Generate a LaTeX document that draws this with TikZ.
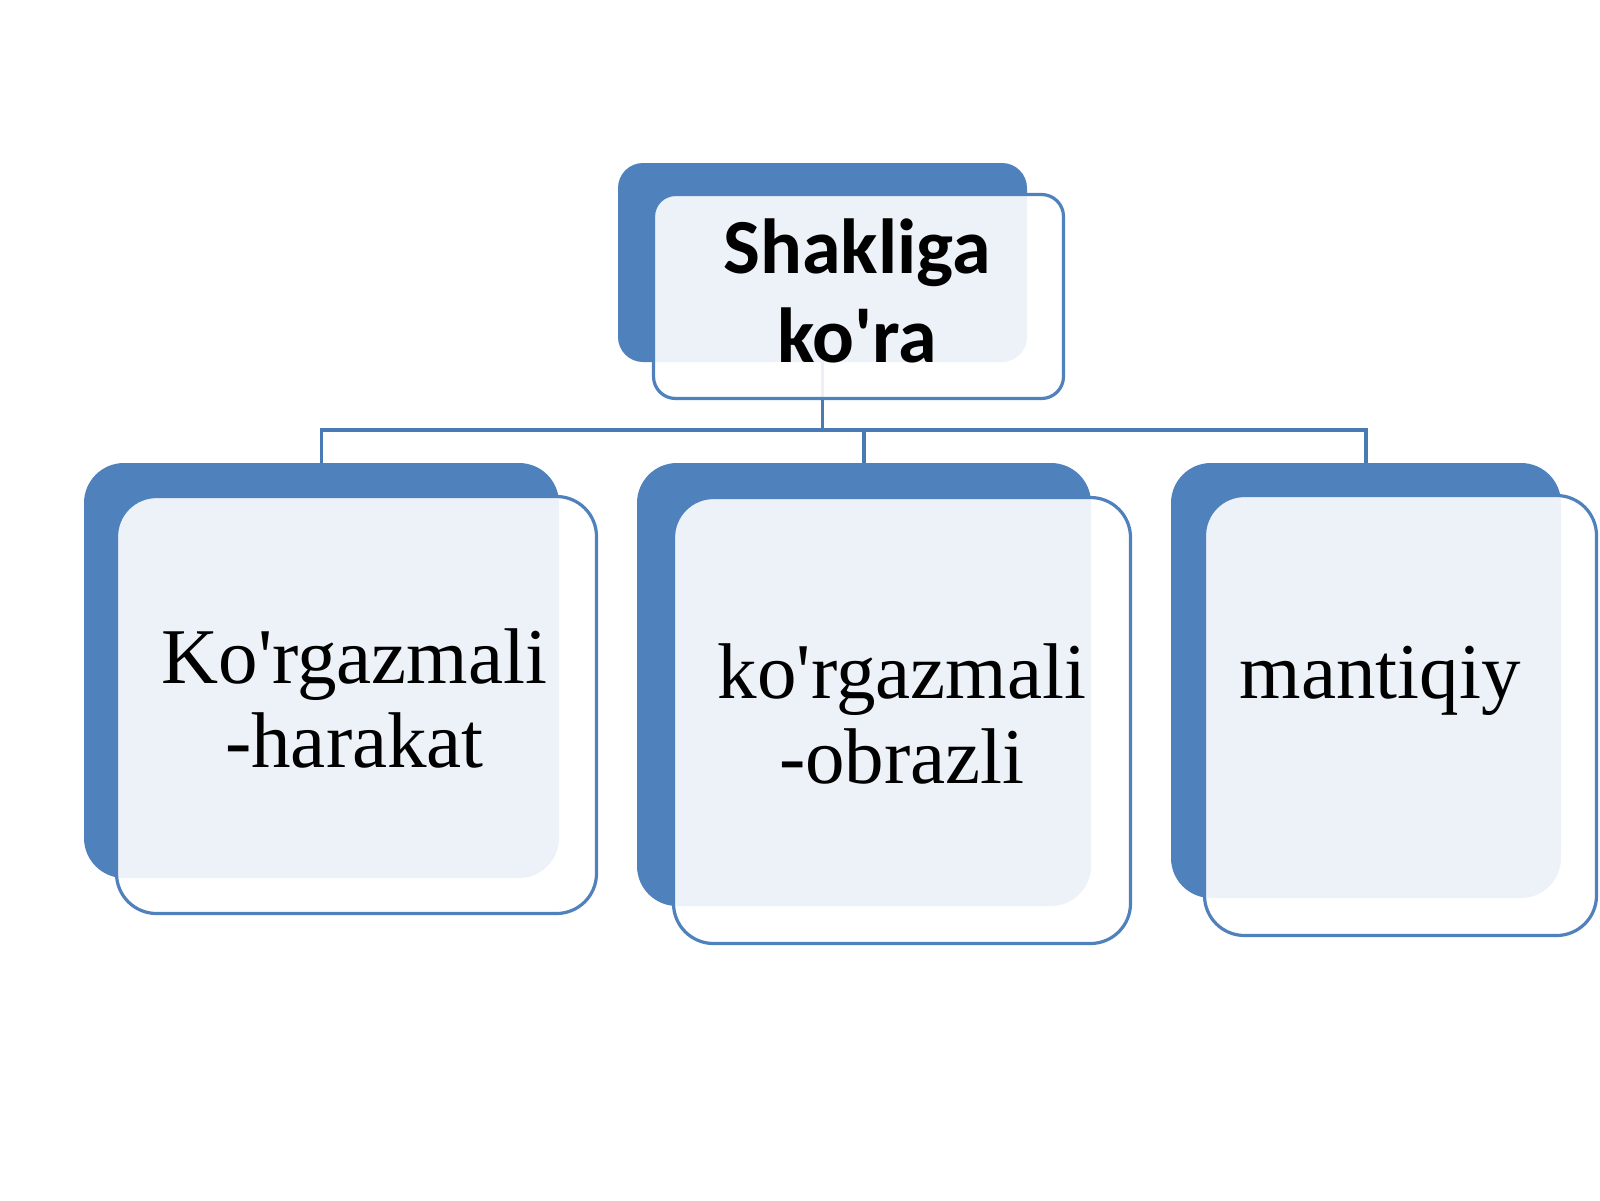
\documentclass[tikz,border=0pt]{standalone}
\usepackage{fontspec}
\setmainfont{Liberation Serif}
\newfontfamily\labelsans{Carlito}
\definecolor{accentblue}{HTML}{4F81BD}
\definecolor{linkblue}{HTML}{4A7AB4}
\begin{document}
\begin{tikzpicture}[x=1pt,y=-1pt,
  backbox/.style={rectangle, draw=none, fill=accentblue, inner sep=0pt, outer sep=0pt},
  frontbox/.style={rectangle, draw=accentblue, line width=3.2pt, fill=white, fill opacity=0.9, inner sep=0pt, outer sep=0pt},
  link/.style={draw=linkblue, line width=3.2pt},
  childtext/.style={anchor=base, inner sep=0pt, font=\fontsize{79}{84}\selectfont},
  toptext/.style={anchor=base, inner sep=0pt, font=\labelsans\bfseries\fontsize{78}{89}\selectfont}
]
\useasboundingbox[fill=white] (0,0) rectangle (1600,1200);

% back boxes
\node[backbox, rounded corners=25pt, minimum width=409pt, minimum height=199pt] (topback) at (822.5,262.5) {};
\node[backbox, rounded corners=40pt, minimum width=475pt, minimum height=415pt] (leftback) at (321.5,670.5) {};
\node[backbox, rounded corners=40pt, minimum width=454pt, minimum height=443pt] (midback) at (864,684.5) {};
\node[backbox, rounded corners=40pt, minimum width=390pt, minimum height=435pt] (rightback) at (1366,680.5) {};

% connectors
\coordinate (bus) at (822.5,430);
\draw[link] (topback.south) |- (leftback.north |- bus) -- (leftback.north);
\draw[link] (topback.south) |- (rightback.north |- bus) -- (rightback.north);
\draw[link] (midback.north |- bus) -- (midback.north);

% front boxes
\node[frontbox, rounded corners=22pt, minimum width=410pt, minimum height=204pt] (topfront) at (858.5,296.5) {};
\node[frontbox, rounded corners=40pt, minimum width=480pt, minimum height=417pt] (leftfront) at (356.5,705) {};
\node[frontbox, rounded corners=40pt, minimum width=457pt, minimum height=446pt] (midfront) at (902,720.5) {};
\node[frontbox, rounded corners=40pt, minimum width=392pt, minimum height=440pt] (rightfront) at (1400.5,715.5) {};

% texts
\node[toptext] (toplabel) at (857,273) {\begin{tabular}[t]{@{}c@{}}Shakliga\\ko\textquotesingle ra\end{tabular}};
\node[childtext] (leftlabel) at (354.5,683) {\begin{tabular}[t]{@{}c@{}}Ko\textquotesingle rgazmali\\-harakat\end{tabular}};
\node[childtext, font=\fontsize{79}{85}\selectfont] (midlabel) at (902,698) {\begin{tabular}[t]{@{}c@{}}ko\textquotesingle rgazmali\\-obrazli\end{tabular}};
\node[childtext] (rightlabel) at (1380,698) {mantiqiy};
\end{tikzpicture}
\end{document}
